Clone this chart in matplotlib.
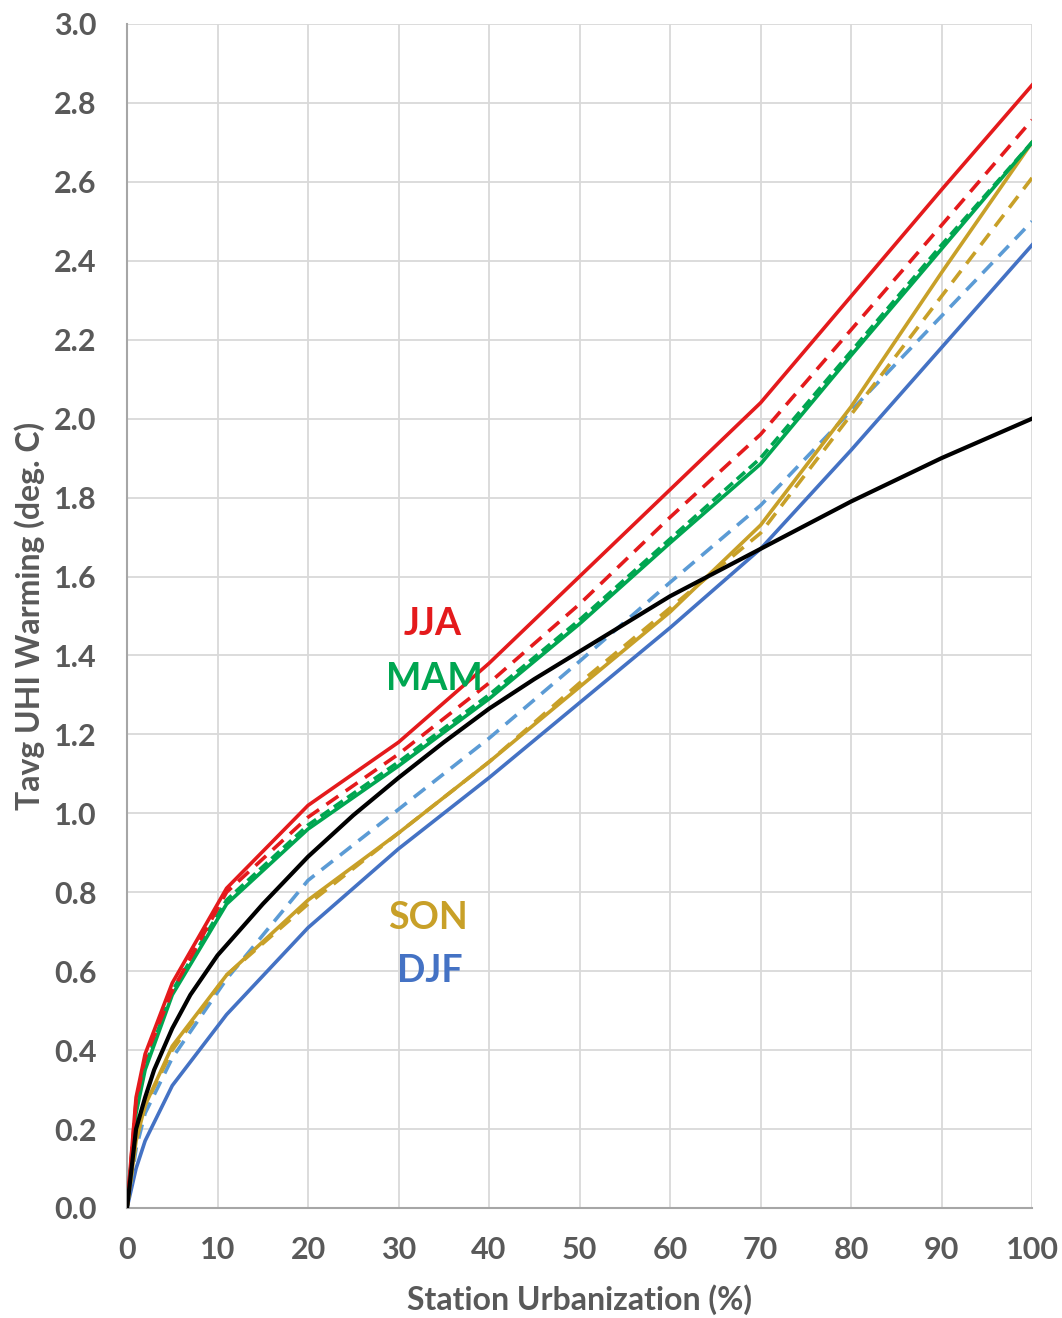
import matplotlib
matplotlib.use("Agg")
import matplotlib.pyplot as plt
import numpy as np

# Station urbanization (%) sample points
urban = [0, 1, 2, 5, 11, 20, 30, 40, 50, 60, 70, 80, 90, 100]

# seasonal UHI warming (deg C), solid and dashed versions
jja = [0, 0.28, 0.39, 0.57, 0.81, 1.02, 1.18, 1.38, 1.60, 1.82, 2.04, 2.31, 2.58, 2.845]
jja_d = [0, 0.27, 0.38, 0.55, 0.80, 0.99, 1.15, 1.33, 1.53, 1.75, 1.96, 2.225, 2.49, 2.757]
mam = [0, 0.24, 0.35, 0.54, 0.77, 0.96, 1.12, 1.29, 1.48, 1.685, 1.885, 2.16, 2.43, 2.70]
mam_d = [0, 0.25, 0.36, 0.55, 0.78, 0.97, 1.13, 1.30, 1.49, 1.695, 1.90, 2.17, 2.44, 2.70]
son = [0, 0.17, 0.26, 0.41, 0.59, 0.78, 0.95, 1.13, 1.32, 1.51, 1.73, 2.03, 2.37, 2.70]
son_d = [0, 0.17, 0.26, 0.40, 0.59, 0.77, 0.95, 1.13, 1.33, 1.52, 1.71, 2.01, 2.31, 2.61]
djf = [0, 0.10, 0.17, 0.31, 0.49, 0.71, 0.91, 1.09, 1.28, 1.47, 1.67, 1.92, 2.18, 2.44]
djf_d = [0, 0.15, 0.24, 0.38, 0.58, 0.83, 1.01, 1.19, 1.385, 1.585, 1.78, 2.02, 2.26, 2.50]

# annual curve (black), read at finer spacing
urban_ann = [0, 1, 2, 3, 5, 7, 10, 15, 20, 25, 30, 35, 40, 45, 50,
             55, 60, 65, 70, 75, 80, 85, 90, 95, 100]
annual = [0, 0.20, 0.28, 0.35, 0.455, 0.54, 0.64, 0.77, 0.89, 0.995, 1.09, 1.18, 1.265,
          1.34, 1.41, 1.48, 1.55, 1.61, 1.67, 1.73, 1.79, 1.845, 1.90, 1.95, 2.0]

labels = ["JJA", "MAM", "SON", "DJF"]

RED = "#E41A1C"
GREEN = "#00A651"
GOLD = "#C8A028"
BLUE = "#4472C4"
LBLUE = "#5B9BD5"
GRAY = "#595959"

plt.rcParams['font.family'] = ['Lato', 'DejaVu Sans']
plt.rcParams['font.weight'] = 'bold'

fig = plt.figure(figsize=(10.62, 13.18), dpi=100)
ax = fig.add_axes([0.1196, 0.0835, 0.8522, 0.8983])

lw = 2.6
ax.plot(urban, djf, color=BLUE, lw=lw, zorder=3)
ax.plot(urban, djf_d, color=LBLUE, lw=lw, ls=(0, (4, 2.5)), zorder=3)
ax.plot(urban, son, color=GOLD, lw=lw, zorder=3)
ax.plot(urban, son_d, color=GOLD, lw=lw, ls=(0, (4, 2.5)), zorder=3)
ax.plot(urban, mam, color=GREEN, lw=lw, zorder=3)
ax.plot(urban, mam_d, color=GREEN, lw=lw, ls=(0, (3, 1.5)), zorder=3)
ax.plot(urban, jja_d, color=RED, lw=lw, ls=(0, (4, 2.5)), zorder=3)
ax.plot(urban, jja, color=RED, lw=lw, zorder=3)
ax.plot(urban_ann, annual, color="black", lw=3.0, zorder=4)

# season labels
fs = 27
ax.text(33.8, 1.48, labels[0], color=RED, fontsize=fs, fontweight='bold', ha='center', va='center', zorder=5)
ax.text(34.0, 1.34, labels[1], color=GREEN, fontsize=fs, fontweight='bold', ha='center', va='center', zorder=5)
ax.text(33.3, 0.735, labels[2], color=GOLD, fontsize=fs, fontweight='bold', ha='center', va='center', zorder=5)
ax.text(33.5, 0.60, labels[3], color=BLUE, fontsize=fs, fontweight='bold', ha='center', va='center', zorder=5)

ax.set_xlim(0, 100)
ax.set_ylim(0, 3.0)
ax.set_xticks(np.arange(0, 101, 10))
ax.set_yticks(np.arange(0, 3.01, 0.2))
ax.set_yticklabels([f"{v:.1f}" for v in np.arange(0, 3.01, 0.2)])
ax.grid(True, color="#D9D9D9", lw=1.3, zorder=0)
ax.set_axisbelow(True)
ax.tick_params(length=0, labelsize=22, labelcolor=GRAY)
ax.tick_params(axis='y', pad=22)
ax.tick_params(axis='x', pad=20)
for lab in ax.get_xticklabels() + ax.get_yticklabels():
    lab.set_fontweight('bold')

for s in ["top", "right"]:
    ax.spines[s].set_visible(False)
ax.spines["left"].set_color("#A6A6A6")
ax.spines["bottom"].set_color("#A6A6A6")
ax.spines["left"].set_linewidth(1.5)
ax.spines["bottom"].set_linewidth(1.5)

ax.set_xlabel("Station Urbanization (%)", fontsize=23, color=GRAY, fontweight='bold', labelpad=15)
ax.set_ylabel("Tavg UHI Warming (deg. C)", fontsize=23, color=GRAY, fontweight='bold', labelpad=6)

fig.savefig("out.png", dpi=100)
